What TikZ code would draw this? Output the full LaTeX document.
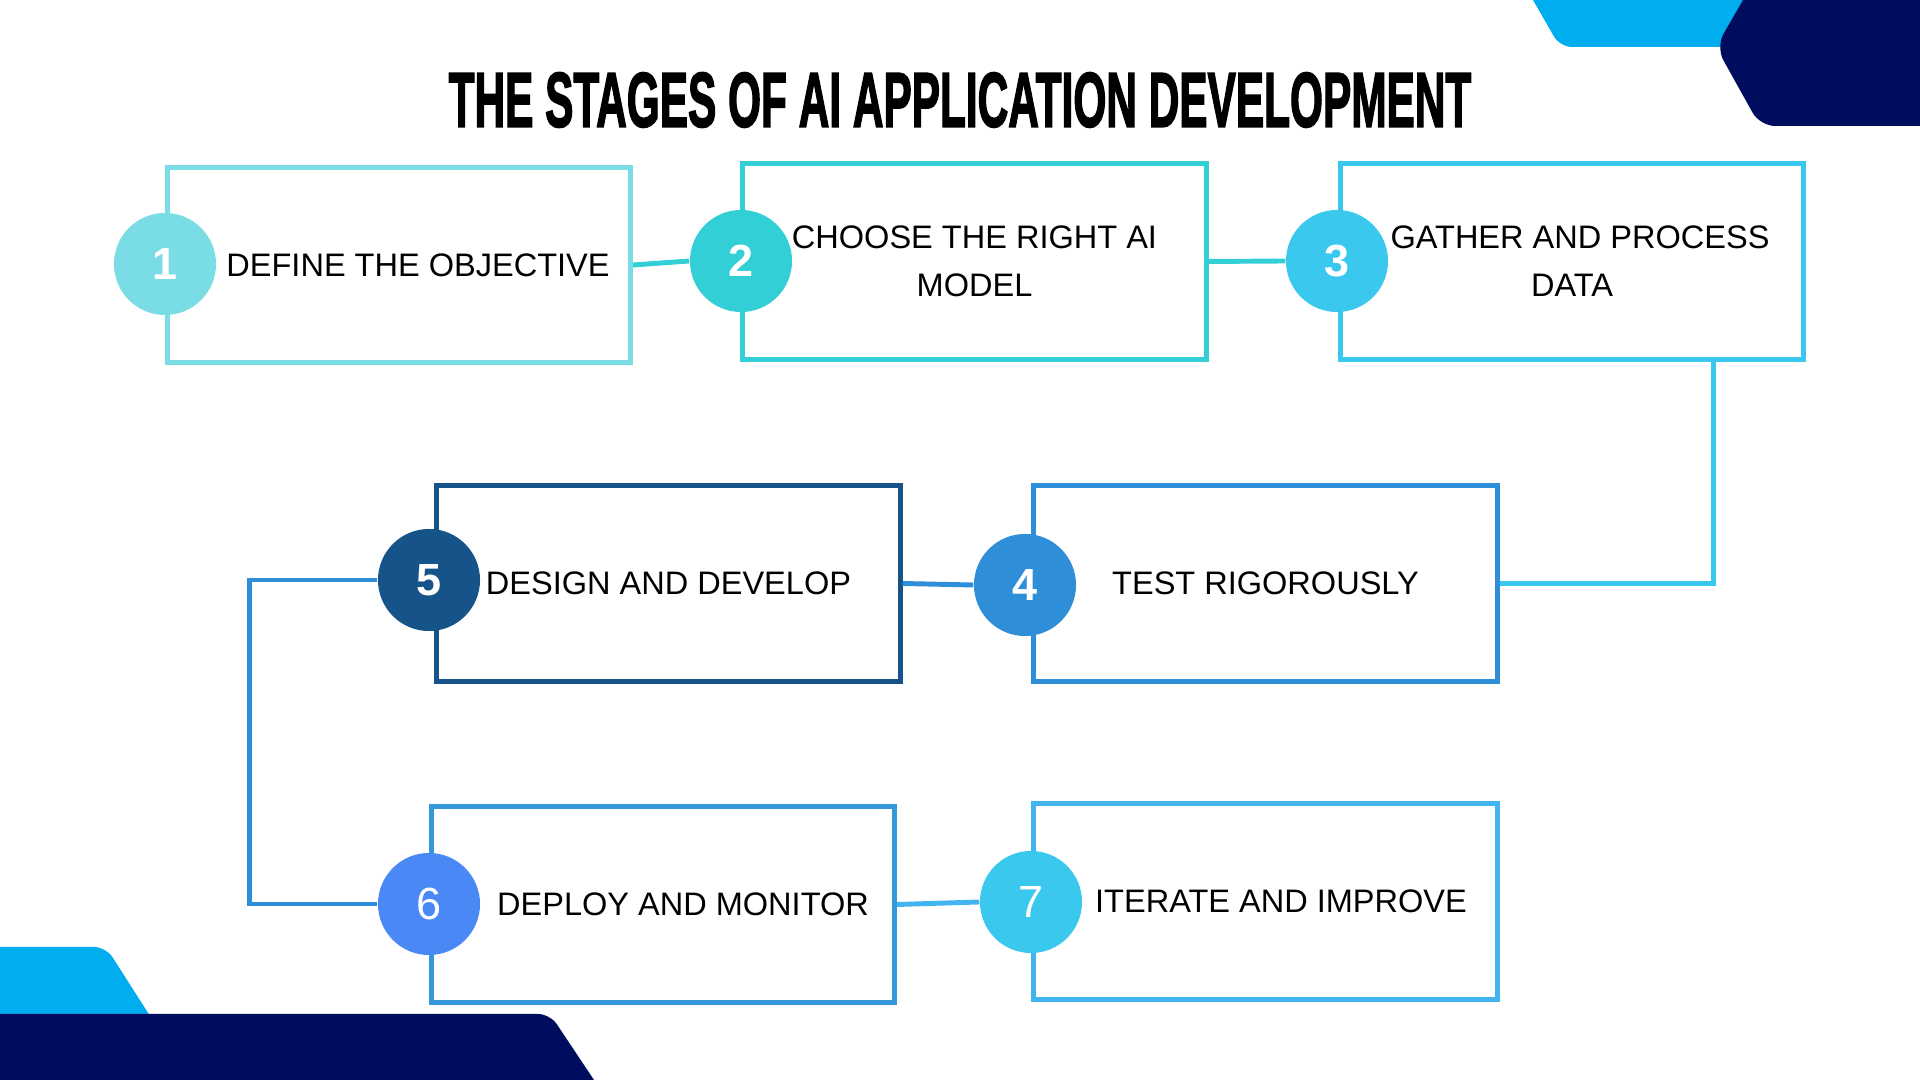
\documentclass[tikz,border=0pt]{standalone}
\usepackage{fontspec}
\usepackage{graphicx}
\setmainfont{Liberation Sans}
\newfontfamily\titlefont{Liberation Sans}[BoldFeatures={FakeBold=2.5}]
\usepackage{tikz}
\usetikzlibrary{positioning}

\definecolor{tealA}{HTML}{7ADDE5}
\definecolor{tealB}{HTML}{33CFD6}
\definecolor{skyA}{HTML}{3AC8EF}
\definecolor{blueA}{HTML}{2E8ED8}
\definecolor{navyA}{HTML}{165388}
\definecolor{royalA}{HTML}{4A89F5}
\definecolor{blueB}{HTML}{3398DA}
\definecolor{skyB}{HTML}{42B4F0}
\definecolor{cornerSky}{HTML}{00AEEF}
\definecolor{cornerNavy}{HTML}{000C5E}

\begin{document}
\begin{tikzpicture}[
    x=0.01cm, y=-0.01cm,
    stage/.style={draw, line width=1.4pt, fill=white,
                  minimum width=4.63cm, minimum height=1.95cm,
                  align=center, inner sep=0pt,
                  font=\fontsize{9.25}{13.7}\selectfont},
    badge/.style={circle, minimum size=1.02cm, inner sep=0pt, text=white,
                  font=\fontsize{12.8}{14}\selectfont},
    link/.style={line width=1.4pt}
  ]
  \useasboundingbox (0,0) rectangle (1920,1080);

  % corner decorations
  \fill[cornerSky] (1533,0) [rounded corners=0.12cm] -- (1560,47) [sharp corners] -- (1800,47) -- (1800,0) -- cycle;
  \fill[cornerNavy] (1743,0) [rounded corners=0.15cm] -- (1716,47) -- (1760,126) [sharp corners] -- (1920,126) -- (1920,0) -- cycle;
  \fill[cornerSky] (0,947) [rounded corners=0.12cm] -- (106,947) [sharp corners] -- (150,1016) -- (0,1016) -- cycle;
  \fill[cornerNavy] (0,1014) [rounded corners=0.12cm] -- (550,1014) [sharp corners] -- (594,1080) -- (0,1080) -- cycle;

  \node[inner sep=0pt] (title) at (960,100)
    {\resizebox{10.22cm}{0.54cm}{\titlefont\bfseries THE STAGES OF AI APPLICATION DEVELOPMENT}};

  \node[stage, draw=tealA]  (b1) at (399,265)    {\hspace*{0.38cm}DEFINE THE OBJECTIVE};
  \node[stage, draw=tealB]  (b2) at (974.5,261.5) {CHOOSE THE RIGHT AI\\MODEL};
  \node[stage, draw=skyA]   (b3) at (1572,261.5)  {\hspace*{0.16cm}GATHER AND PROCESS\\DATA};
  \node[stage, draw=blueA]  (b4) at (1265.5,583.5) {TEST RIGOROUSLY};
  \node[stage, draw=navyA]  (b5) at (668.5,583.5) {DESIGN AND DEVELOP};
  \node[stage, draw=blueB]  (b6) at (663,904.5)   {\hspace*{0.4cm}DEPLOY AND MONITOR};
  \node[stage, draw=skyB]   (b7) at (1265.5,901.5) {\hspace*{0.31cm}ITERATE AND IMPROVE};

  \draw[link, skyA] ([xshift=-0.93cm]b3.south east) |- (b4.east);

  \node[badge, fill=tealA]  (n1) at (165,264)  {\bfseries 1};
  \node[badge, fill=tealB]  (n2) at (741,261)  {\bfseries 2};
  \node[badge, fill=skyA]   (n3) at (1337,261) {\bfseries 3};
  \node[badge, fill=blueA]  (n4) at (1025,585) {\bfseries 4};
  \node[badge, fill=navyA]  (n5) at (429,580)  {\bfseries 5};
  \node[badge, fill=royalA] (n6) at (429,904)  {6};
  \node[badge, fill=skyA]   (n7) at (1031,902) {7};

  \draw[link, tealB] (b1.east) -- (n2.west);
  \draw[link, tealB] (b2.east) -- (n3.west);
  \draw[link, blueA] (b5.east) -- (n4.west);
  \draw[link, blueA] (n5.west) -- ++(-128,0) |- (n6.west);
  \draw[link, skyB]  (b6.east) -- (n7.west);
\end{tikzpicture}
\end{document}
